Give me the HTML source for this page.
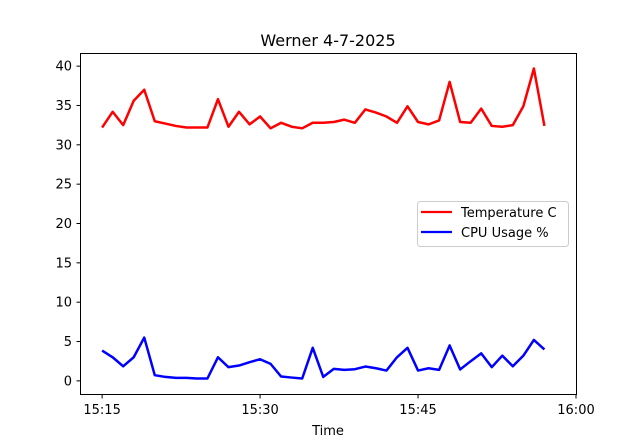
<!DOCTYPE html>
<html><head><meta charset="utf-8"><style>
body{margin:0;background:#fff}
svg text{font-family:"DejaVu Sans","Liberation Sans",sans-serif;fill:#000}
</style></head><body>
<svg id="chart" width="640" height="443" viewBox="0 0 640 443">
<text x="328" y="46" font-size="16" text-anchor="middle">Werner 4-7-2025</text>
<g id="marks"></g>
<rect x="80.5" y="53.5" width="496" height="341" fill="none" stroke="#000" stroke-width="1"/>
<g id="axes"></g>
<text x="328" y="435" font-size="13" text-anchor="middle">Time</text>
<g>
<rect x="417.5" y="201.5" width="151" height="45" rx="3" fill="#fff" fill-opacity="0.8" stroke="#ccc"/>
<line x1="421" y1="212" x2="452" y2="212" stroke="red" stroke-width="2.2"/>
<text x="461" y="217" font-size="13">Temperature C</text>
<line x1="421" y1="232" x2="452" y2="232" stroke="blue" stroke-width="2.2"/>
<text x="461" y="237" font-size="13">CPU Usage %</text>
</g>
</svg>
<script>
const minutes = Array.from({length:43},(_, i)=>i); // minutes after 15:15
const temperature = [32.2,34.2,32.5,35.6,37.0,33.0,32.7,32.4,32.2,32.2,32.2,35.8,32.3,34.2,32.6,33.6,32.1,32.8,32.3,32.1,32.8,32.8,32.9,33.2,32.8,34.5,34.1,33.6,32.8,34.9,32.9,32.6,33.1,38.0,32.9,32.8,34.6,32.4,32.3,32.5,34.9,39.7,32.4];
const cpu = [3.85,3.0,1.85,3.0,5.5,0.72,0.5,0.38,0.38,0.3,0.3,3.0,1.74,1.95,2.37,2.75,2.16,0.55,0.42,0.3,4.2,0.5,1.52,1.4,1.48,1.82,1.6,1.31,3.0,4.2,1.31,1.6,1.4,4.5,1.45,2.5,3.5,1.74,3.2,1.85,3.2,5.2,4.0];
const yTicks = [0,5,10,15,20,25,30,35,40];
const xTicks = [0,15,30,45];
const xTickLabels = ["15:15","15:30","15:45","16:00"];
const NS="http://www.w3.org/2000/svg";
const X0=80,X1=576,Y0=394,Y1=53, xmin=-2.1,xmax=45, ymin=-1.67,ymax=41.67;
function xs(v){return X0+(v-xmin)/(xmax-xmin)*(X1-X0);}
function ys(v){return Y0-(v-ymin)/(ymax-ymin)*(Y0-Y1);}
const marks=document.getElementById('marks'), axes=document.getElementById('axes');
function mk(tag,attrs,parent){const e=document.createElementNS(NS,tag);for(const k in attrs)e.setAttribute(k,attrs[k]);parent.appendChild(e);return e;}
function series(vals,color,name){
  const p=mk('polyline',{points:vals.map((v,i)=>xs(minutes[i]).toFixed(2)+','+ys(v).toFixed(2)).join(' '),fill:'none',stroke:color,'stroke-width':2.5,'stroke-linejoin':'round'},marks);
  
  
}
series(temperature,'red','temperature-line');
series(cpu,'blue','cpu-usage-line');
yTicks.forEach(t=>{
  const y=ys(t);
  const l=mk('line',{x1:76.5,x2:80.5,y1:y,y2:y,stroke:'#000'},axes);
  
  
  const tx=mk('text',{x:72,y:y+4.5,'font-size':13,'text-anchor':'end'},axes);
  tx.textContent=t;
  
  
});
xTicks.forEach((t,i)=>{
  const x=xs(t);
  const l=mk('line',{x1:x,x2:x,y1:394.5,y2:398.5,stroke:'#000'},axes);
  
  
  const tx=mk('text',{x:x,y:414,'font-size':13,'text-anchor':'middle'},axes);
  tx.textContent=xTickLabels[i];
  
  
});
</script>
</body></html>
